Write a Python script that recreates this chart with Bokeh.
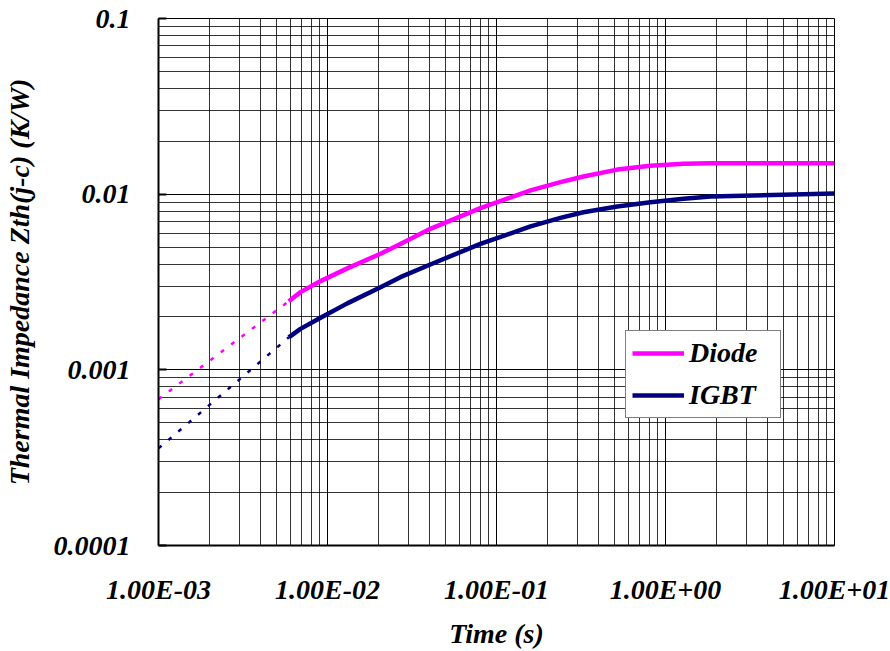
from bokeh.plotting import figure
from bokeh.models import Legend, LegendItem, FixedTicker
from bokeh.embed import file_html
from bokeh.resources import INLINE

# ---- data ----
diode_x = [0.0059, 0.00692, 0.0091, 0.0131, 0.0206, 0.0270, 0.0406, 0.0803, 0.159, 0.239, 0.327, 0.518, 0.815, 1.28, 1.85, 10]
diode_y = [0.00246, 0.00277, 0.00320, 0.00378, 0.00458, 0.00521, 0.00635, 0.00832, 0.0105, 0.0117, 0.0126, 0.0138, 0.0145, 0.0149, 0.0150, 0.0150]
igbt_x = [0.0059, 0.00692, 0.0091, 0.0131, 0.0206, 0.0270, 0.0406, 0.0803, 0.159, 0.239, 0.327, 0.518, 0.815, 1.28, 1.85, 10]
igbt_y = [0.00153, 0.00171, 0.00198, 0.00239, 0.00295, 0.00337, 0.00398, 0.00521, 0.00655, 0.00733, 0.00789, 0.00851, 0.00900, 0.00941, 0.00970, 0.0101]
diode_ext_x = [0.001, 0.0059]
diode_ext_y = [0.00068, 0.00246]
igbt_ext_x = [0.001, 0.0059]
igbt_ext_y = [0.000357, 0.00153]

x_ticks = [0.001, 0.01, 0.1, 1, 10]
x_tick_labels = ["1.00E-03", "1.00E-02", "1.00E-01", "1.00E+00", "1.00E+01"]
y_ticks = [0.0001, 0.001, 0.01, 0.1]
y_tick_labels = ["0.0001", "0.001", "0.01", "0.1"]

x_minor = [k * 10.0 ** e for e in range(-3, 1) for k in range(2, 10)]
y_minor = [k * 10.0 ** e for e in range(-4, -1) for k in range(2, 10)]

FONT = "Liberation Serif"

p = figure(width=890, height=651, x_axis_type="log", y_axis_type="log",
           x_range=(0.001, 10), y_range=(0.0001, 0.1),
           output_backend="svg", toolbar_location=None,
           min_border_left=158, min_border_right=56,
           min_border_top=18, min_border_bottom=106)

p.xaxis.ticker = FixedTicker(ticks=x_ticks, minor_ticks=x_minor)
p.yaxis.ticker = FixedTicker(ticks=y_ticks, minor_ticks=y_minor)
p.xaxis.major_label_overrides = {t: l for t, l in zip(x_ticks, x_tick_labels)}
p.yaxis.major_label_overrides = {t: l for t, l in zip(y_ticks, y_tick_labels)}

for g in (p.xgrid, p.ygrid):
    g.grid_line_color = "black"
    g.grid_line_width = 1
    g.minor_grid_line_color = "black"
    g.minor_grid_line_width = 1
    g.minor_grid_line_alpha = 0.8

for ax in (p.xaxis, p.yaxis):
    ax.axis_line_width = 2
    ax.axis_line_color = "black"
    ax.minor_tick_line_color = None
    ax.major_label_text_font = FONT
    ax.major_label_text_font_style = "bold italic"
    ax.major_label_text_font_size = "28px"
    ax.major_label_text_color = "black"
    ax.axis_label_text_font = FONT
    ax.axis_label_text_font_style = "bold italic"
    ax.axis_label_text_font_size = "28px"
    ax.axis_label_text_color = "black"

p.yaxis.major_tick_in = 8
p.yaxis.major_tick_out = 0
p.yaxis.major_tick_line_width = 2
p.xaxis.major_tick_in = 0
p.xaxis.major_tick_out = 0
p.yaxis.major_label_standoff = 24
p.xaxis.major_label_standoff = 24
p.xaxis.axis_label = "Time (s)"
p.yaxis.axis_label = "Thermal Impedance Zth(j-c) (K/W)"
p.xaxis.axis_label_standoff = 10
p.yaxis.axis_label_standoff = 16

p.outline_line_color = "black"
p.outline_line_width = 1
p.background_fill_color = "white"
p.border_fill_color = "white"

PINK = "#FF00FF"
NAVY = "#000080"

p.line(diode_ext_x, diode_ext_y, line_color=PINK, line_width=2.5, line_dash="4 9")
p.line(igbt_ext_x, igbt_ext_y, line_color=NAVY, line_width=2.5, line_dash="4 9")
r_d = p.line(diode_x, diode_y, line_color=PINK, line_width=4.5, line_join="round")
r_i = p.line(igbt_x, igbt_y, line_color=NAVY, line_width=4.5, line_join="round")

legend = Legend(items=[LegendItem(label="Diode", renderers=[r_d]),
                       LegendItem(label="IGBT", renderers=[r_i])],
                location=(467, 127))
legend.label_text_font = FONT
legend.label_text_font_style = "bold italic"
legend.label_text_font_size = "28px"
legend.label_text_color = "black"
legend.glyph_width = 52
legend.glyph_height = 30
legend.label_height = 30
legend.label_width = 85
legend.label_standoff = 5
legend.spacing = 10
legend.padding = 6
legend.margin = 0
legend.border_line_color = "black"
legend.border_line_width = 1
legend.background_fill_color = "white"
legend.background_fill_alpha = 1
p.add_layout(legend, "center")

open("out.html", "w").write(file_html(p, INLINE))
